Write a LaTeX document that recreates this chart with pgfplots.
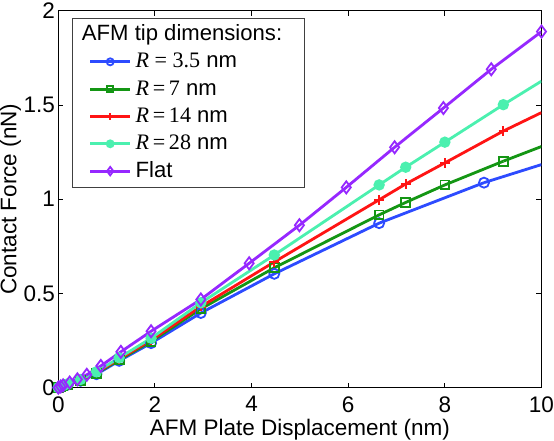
\documentclass[border=0pt]{standalone}
\usepackage{fontspec}
\setmainfont{Liberation Sans}
\newfontfamily\tnr{Liberation Serif}
\usepackage{pgfplots}
\pgfplotsset{compat=1.18}
\definecolor{cblue}{RGB}{45,75,255}
\definecolor{cgreen}{RGB}{20,150,20}
\definecolor{cred}{RGB}{255,20,20}
\definecolor{ccyan}{RGB}{75,240,175}
\definecolor{cpurple}{RGB}{150,40,255}
\begin{document}
\begin{tikzpicture}
\begin{axis}[
  scale only axis, width=240.5pt, height=187.5pt,
  xmin=0, xmax=10, ymin=0, ymax=2,
  xtick={0,2,...,10}, ytick={0,0.5,1,1.5,2},
  tick align=inside, major tick length=2.5pt,
  axis line style={line width=0.6pt},
  every tick/.style={black, line width=0.5pt},
  /pgf/number format/assume math mode=true,
  ticklabel style={font=\fontsize{11.2}{13}\selectfont},
  yticklabel style={inner xsep=1.5pt, inner ysep=1.5pt},
  xticklabel style={inner xsep=0pt, inner ysep=4.2pt},
  xlabel={AFM Plate Displacement (nm)},
  ylabel={Contact Force (nN)},
  xlabel style={font=\fontsize{11.2}{13}\selectfont, at={(axis description cs:0.5,0)}, anchor=base, yshift=-24pt, inner sep=0pt},
  ylabel style={font=\fontsize{11.2}{13}\selectfont, at={(axis description cs:0,0.5)}, anchor=base, yshift=20.9pt, inner sep=0pt},
  legend style={at={(0.029,0.981)}, anchor=north west, draw=black!75,
    font=\fontsize{11}{13}\selectfont,
    nodes={inner sep=0pt, text height=8.5pt, text depth=2.5pt},
    row sep=2.6pt, column sep=2pt, inner xsep=8pt, inner ysep=2.5pt},
  legend cell align=left,
  legend image code/.code={\draw[mark repeat=2,mark phase=2,#1, every mark/.append style={scale=0.7}] plot coordinates {(0cm,0cm)(0.35cm,0cm)(0.7cm,0cm)};},
]
\addlegendimage{empty legend}
\addlegendentry{\hspace*{-26.7pt}AFM tip dimensions:\hspace*{3pt}}

\addplot[color=cblue, line width=1.4pt, mark=o, mark size=2.5pt, mark options={solid, line width=0.9pt}] coordinates {
(0,0)(0.05,0.004)(0.1,0.008)(0.2,0.016)(0.46,0.036)(0.79,0.071)(1.26,0.142)(1.92,0.236)(2.95,0.396)(4.47,0.604)(6.64,0.873)(8.81,1.088)};
\addlegendentry{{\tnr\textit{R} = 3.5} nm}
\addplot[color=cblue, line width=1.4pt, forget plot] coordinates {(8.81,1.088)(10,1.184)};

\addplot[color=cgreen, line width=1.4pt, mark=square, mark size=2.2pt, mark options={solid, line width=0.9pt}] coordinates {
(0,0)(0.05,0.004)(0.1,0.009)(0.2,0.018)(0.46,0.039)(0.79,0.076)(1.26,0.147)(1.92,0.245)(2.95,0.418)(4.47,0.636)(6.64,0.917)(7.19,0.983)(8.0,1.076)(9.21,1.202)};
\addlegendentry{{\tnr\textit{R}\,=\,7} nm}
\addplot[color=cgreen, line width=1.4pt, forget plot] coordinates {(9.21,1.202)(10,1.28)};

\addplot[color=cred, line width=1.4pt, mark=+, mark size=2.4pt, mark options={solid, line width=0.9pt}] coordinates {
(0,0)(0.05,0.005)(0.1,0.01)(0.2,0.02)(0.46,0.041)(0.79,0.08)(1.26,0.152)(1.92,0.252)(2.95,0.43)(4.47,0.667)(6.64,0.997)(7.19,1.081)(8.0,1.193)(9.21,1.362)};
\addlegendentry{{\tnr\textit{R}\,=\,14} nm}
\addplot[color=cred, line width=1.4pt, forget plot] coordinates {(9.21,1.362)(10,1.46)};

\addplot[color=ccyan, line width=1.4pt, mark=*, mark size=2.1pt, mark options={solid}] coordinates {
(0,0)(0.05,0.005)(0.1,0.01)(0.2,0.021)(0.46,0.043)(0.79,0.084)(1.26,0.158)(1.92,0.262)(2.95,0.45)(4.47,0.704)(6.64,1.076)(7.19,1.17)(8.0,1.303)(9.21,1.502)};
\addlegendentry{{\tnr\textit{R}\,=\,28} nm}
\addplot[color=ccyan, line width=1.4pt, forget plot] coordinates {(9.21,1.502)(10,1.627)};

\addplot[color=cpurple, line width=1.4pt, mark=diamond, mark size=3pt, mark options={solid, line width=0.9pt}] coordinates {
(0,0)(0.05,0.006)(0.1,0.012)(0.235,0.027)(0.395,0.044)(0.59,0.068)(0.88,0.115)(1.295,0.19)(1.92,0.299)(2.95,0.468)(3.95,0.66)(4.99,0.862)(5.96,1.063)(6.96,1.276)(7.97,1.484)(8.96,1.69)(10,1.89)};
\addlegendentry{Flat}
\end{axis}
\end{tikzpicture}
\end{document}
